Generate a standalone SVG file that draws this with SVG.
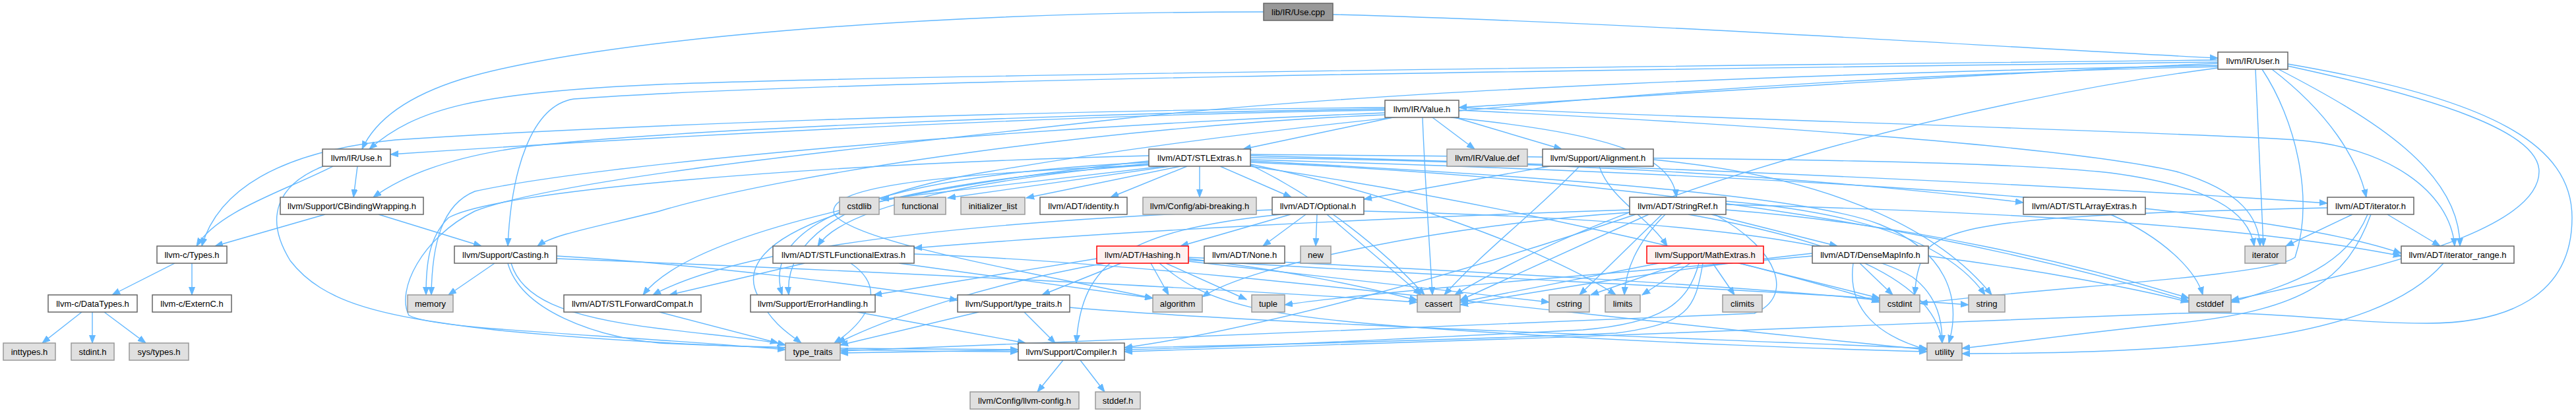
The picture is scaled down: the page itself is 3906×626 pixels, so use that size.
<svg xmlns="http://www.w3.org/2000/svg" width="3906" height="626" viewBox="0 0 3906 626">
<style>
.n rect{fill:#ffffff;stroke:#666666;stroke-width:1.5}
.s rect{fill:#e0e0e0;stroke:#999999;stroke-width:1.5}
.r rect{fill:#999999;stroke:#666666;stroke-width:1.5}
.t rect{fill:#fff0f0;stroke:#ff0000;stroke-width:1.5}
text{font-family:"Liberation Sans",Arial,Helvetica,sans-serif;font-size:13px;fill:#000000;text-anchor:middle}
#edges path{fill:none;stroke:#63b8ff;stroke-width:1.4;marker-end:url(#ah)}
</style>
<defs>
<marker id="ah" markerWidth="13" markerHeight="10" refX="12" refY="5" orient="auto" markerUnits="userSpaceOnUse">
<path d="M0,0.5 L12,5 L0,9.5 z" fill="#63b8ff" stroke="#63b8ff" stroke-width="1"/>
</marker>
</defs>
<rect x="0" y="0" width="3906" height="626" fill="#ffffff"/>
<g id="edges">
<path d="M1916,18 C1400,18 900,60 700,120 C620,145 570,180 549,226"/>
<path d="M2021,22 C2500,35 3000,70 3363,88"/>
<path d="M3363,91 C2800,97 1400,112 1000,128 C720,140 630,165 560,226"/>
<path d="M3363,96 C3000,112 2500,145 2212,163"/>
<path d="M3363,94 C2600,104 1300,118 870,150 C805,160 775,260 770,373"/>
<path d="M3363,103 C3000,150 2480,280 2206,447"/>
<path d="M3363,99 C2800,110 2100,135 1700,180 C1300,225 850,270 720,320 C640,360 600,440 620,478 C660,500 900,505 1191,530"/>
<path d="M3420,105 L3432,373"/>
<path d="M3430,105 C3480,180 3510,300 3480,390 C3440,420 3100,435 2911,460"/>
<path d="M3445,105 C3530,170 3575,240 3588,299"/>
<path d="M3455,105 C3600,180 3730,260 3730,373"/>
<path d="M3469,100 C3700,150 3850,200 3850,260 C3850,330 3700,390 3383,455"/>
<path d="M3469,97 C3780,150 3900,220 3900,330 C3900,450 3800,490 3680,490 C3550,490 3450,470 3300,475 C2900,490 2200,520 1705,533"/>
<path d="M3363,101 C2700,115 2000,175 1500,260 C1250,300 1190,380 1196,447"/>
<path d="M2100,167 C1700,172 1100,200 592,234"/>
<path d="M2100,163 C1500,168 900,192 600,212 C420,230 330,290 306,373"/>
<path d="M2100,165 C1600,172 1000,198 800,222 C700,235 620,260 566,299"/>
<path d="M2112,178 L1885,226"/>
<path d="M2172,178 L2236,226"/>
<path d="M2206,178 L2368,226"/>
<path d="M2200,178 C2420,200 2535,230 2542,299"/>
<path d="M2157,178 C2160,260 2168,380 2172,447"/>
<path d="M2100,174 C1700,190 1200,260 1000,320 C900,345 840,355 815,373"/>
<path d="M2100,171 C1500,195 900,250 720,290 C670,310 655,370 654,447"/>
<path d="M2212,163 C2600,180 3300,200 3480,212 C3620,222 3715,290 3722,373"/>
<path d="M2212,167 C2700,190 3150,225 3300,260 C3400,290 3425,330 3427,373"/>
<path d="M542,252 L536,299"/>
<path d="M505,252 C430,290 330,320 298,373"/>
<path d="M490,252 C420,280 400,330 440,395 C490,460 580,480 750,500 C1000,525 1300,533 1544,533"/>
<path d="M493,325 L326,373"/>
<path d="M574,325 L730,373"/>
<path d="M265,399 L170,447"/>
<path d="M291,399 L291,447"/>
<path d="M124,473 L64,520"/>
<path d="M140,473 L140,520"/>
<path d="M158,473 L221,520"/>
<path d="M750,399 L680,447"/>
<path d="M844,388 C1050,400 1300,430 1452,455"/>
<path d="M844,392 C1300,410 1900,440 2149,458"/>
<path d="M775,399 C790,450 850,480 1000,498 C1100,510 1160,515 1191,523"/>
<path d="M770,399 C790,470 900,510 1000,520 C1200,530 1400,528 1544,530"/>
<path d="M1765,252 L1336,302"/>
<path d="M1775,252 L1437,300"/>
<path d="M1790,252 L1556,300"/>
<path d="M1800,252 L1684,299"/>
<path d="M1819,252 L1819,299"/>
<path d="M1850,252 L1958,299"/>
<path d="M1742,244 C1400,280 1050,350 975,447"/>
<path d="M1742,248 C1500,270 1280,310 1240,373"/>
<path d="M1742,246 C1350,265 1150,330 1186,447"/>
<path d="M1742,250 C1300,280 1100,360 1150,450 C1170,490 1195,505 1215,520"/>
<path d="M1742,236 C1200,250 750,290 680,330 C650,360 646,400 646,447"/>
<path d="M1742,250 C1400,265 1250,285 1265,325 C1300,370 1600,420 1748,452"/>
<path d="M1896,250 C2000,300 2100,380 2160,447"/>
<path d="M1896,246 C2400,268 2900,330 3319,456"/>
<path d="M1896,252 C2300,310 2700,410 2850,458"/>
<path d="M1896,249 C2100,290 2350,380 2450,447"/>
<path d="M1896,234 C2500,240 3000,240 3200,262 C3350,282 3410,320 3418,373"/>
<path d="M1896,236 C2500,250 3200,285 3529,308"/>
<path d="M1896,242 C2600,262 3400,300 3641,384"/>
<path d="M1896,239 C2300,244 2700,262 3068,307"/>
<path d="M1896,244 C2400,270 2750,300 2850,340 C2950,380 2975,450 2955,520"/>
<path d="M1957,325 L1790,373"/>
<path d="M1980,325 L1915,373"/>
<path d="M1997,325 L1995,373"/>
<path d="M1929,318 C1600,330 1150,360 990,447"/>
<path d="M1942,325 C1700,350 1640,400 1632,520"/>
<path d="M2012,325 L2155,447"/>
<path d="M2068,320 C2500,330 2800,360 2900,420 C2940,450 2945,490 2945,520"/>
<path d="M1663,392 L1325,447"/>
<path d="M1700,399 L1580,447"/>
<path d="M1745,399 L1772,447"/>
<path d="M1768,399 L1890,454"/>
<path d="M1675,399 C1500,430 1350,480 1270,520"/>
<path d="M1802,392 C1950,410 2050,430 2149,455"/>
<path d="M1802,396 C2000,420 2200,440 2349,458"/>
<path d="M1802,394 C2200,420 2700,440 2985,462"/>
<path d="M1758,399 C1830,460 1900,480 2200,500 C2500,520 2800,530 2922,533"/>
<path d="M1802,390 C2200,410 2600,430 2850,455"/>
<path d="M1220,399 L1015,447"/>
<path d="M1290,399 C1350,440 1310,490 1265,520"/>
<path d="M1363,399 L1748,452"/>
<path d="M1386,385 C1800,400 2400,480 2922,530"/>
<path d="M1000,473 L1180,520"/>
<path d="M1300,473 L1555,520"/>
<path d="M1484,473 L1274,523"/>
<path d="M1553,473 L1600,520"/>
<path d="M1622,466 C1900,490 2500,510 2922,528"/>
<path d="M1612,546 L1573,594"/>
<path d="M1638,546 L1675,594"/>
<path d="M2595,325 L2786,373"/>
<path d="M2471,318 C2100,330 1700,350 1386,376"/>
<path d="M2617,310 C3000,320 3400,340 3641,388"/>
<path d="M2480,325 C2200,420 1900,500 1705,527"/>
<path d="M2471,322 C2200,340 1900,400 1823,450"/>
<path d="M2500,325 L2214,455"/>
<path d="M2617,318 C2900,340 3150,400 3319,452"/>
<path d="M2520,325 L2395,447"/>
<path d="M2525,325 C2480,370 2465,410 2463,447"/>
<path d="M2617,305 C2800,320 2950,360 3010,447"/>
<path d="M2600,325 C2700,380 2720,450 2660,475 C2400,490 1800,510 1274,532"/>
<path d="M2560,325 C2700,350 2930,400 2945,520"/>
<path d="M2425,252 C2440,300 2500,330 2528,373"/>
<path d="M2350,252 L2068,302"/>
<path d="M2395,252 C2330,320 2250,380 2190,447"/>
<path d="M2507,242 C2800,270 2950,360 3020,447"/>
<path d="M2597,399 L2630,447"/>
<path d="M2563,399 L2490,447"/>
<path d="M2550,399 L2412,447"/>
<path d="M2515,399 L2214,458"/>
<path d="M2637,399 L2850,452"/>
<path d="M2576,399 C2560,460 2520,490 2400,500 C2100,515 1900,525 1705,530"/>
<path d="M2582,399 C2570,470 2560,490 2450,505 C2100,520 1600,530 1274,535"/>
<path d="M2820,399 L2870,447"/>
<path d="M2810,399 C2800,470 2850,510 2922,530"/>
<path d="M2748,384 C2600,400 2400,430 2214,462"/>
<path d="M2748,388 C2500,410 2100,440 1948,462"/>
<path d="M2924,388 C3100,410 3250,440 3319,458"/>
<path d="M3200,325 C3280,360 3330,410 3340,447"/>
<path d="M3567,325 L3466,373"/>
<path d="M3620,325 L3700,373"/>
<path d="M3590,325 C3560,400 3480,430 3383,458"/>
<path d="M3595,325 C3560,420 3500,470 3300,490 C3150,505 3050,520 2975,528"/>
<path d="M3529,315 C3100,325 2960,335 2920,380 C2905,410 2905,430 2903,447"/>
<path d="M3705,399 C3600,520 3300,535 2975,536"/>
</g>
<g id="n_use_cpp" class="r"><rect x="1916" y="5" width="105" height="26"/><text x="1968.5" y="23">lib/IR/Use.cpp</text></g>
<g id="n_user_h" class="n"><rect x="3363" y="79" width="106" height="26"/><text x="3416" y="97">llvm/IR/User.h</text></g>
<g id="n_value_h" class="n"><rect x="2100" y="152" width="112" height="26"/><text x="2156" y="170">llvm/IR/Value.h</text></g>
<g id="n_use_h" class="n"><rect x="489" y="226" width="103" height="26"/><text x="540.5" y="244">llvm/IR/Use.h</text></g>
<g id="n_stlextras" class="n"><rect x="1742" y="226" width="154" height="26"/><text x="1819" y="244">llvm/ADT/STLExtras.h</text></g>
<g id="n_value_def" class="s"><rect x="2194" y="226" width="122" height="26"/><text x="2255" y="244">llvm/IR/Value.def</text></g>
<g id="n_alignment" class="n"><rect x="2339" y="226" width="168" height="26"/><text x="2423" y="244">llvm/Support/Alignment.h</text></g>
<g id="n_cbinding" class="n"><rect x="425" y="299" width="217" height="26"/><text x="533.5" y="317">llvm/Support/CBindingWrapping.h</text></g>
<g id="n_cstdlib" class="s"><rect x="1273" y="299" width="60" height="26"/><text x="1303" y="317">cstdlib</text></g>
<g id="n_functional" class="s"><rect x="1356" y="299" width="78" height="26"/><text x="1395" y="317">functional</text></g>
<g id="n_initializer_list" class="s"><rect x="1457" y="299" width="97" height="26"/><text x="1505.5" y="317">initializer_list</text></g>
<g id="n_identity" class="n"><rect x="1577" y="299" width="132" height="26"/><text x="1643" y="317">llvm/ADT/identity.h</text></g>
<g id="n_abi_breaking" class="s"><rect x="1733" y="299" width="172" height="26"/><text x="1819" y="317">llvm/Config/abi-breaking.h</text></g>
<g id="n_optional" class="n"><rect x="1929" y="299" width="139" height="26"/><text x="1998.5" y="317">llvm/ADT/Optional.h</text></g>
<g id="n_stringref" class="n"><rect x="2471" y="299" width="146" height="26"/><text x="2544" y="317">llvm/ADT/StringRef.h</text></g>
<g id="n_stlarrayextras" class="n"><rect x="3068" y="299" width="185" height="26"/><text x="3160.5" y="317">llvm/ADT/STLArrayExtras.h</text></g>
<g id="n_iterator_h" class="n"><rect x="3529" y="299" width="131" height="26"/><text x="3594.5" y="317">llvm/ADT/iterator.h</text></g>
<g id="n_types_h" class="n"><rect x="238" y="373" width="106" height="26"/><text x="291" y="391">llvm-c/Types.h</text></g>
<g id="n_casting" class="n"><rect x="689" y="373" width="155" height="26"/><text x="766.5" y="391">llvm/Support/Casting.h</text></g>
<g id="n_stlfunctionalextras" class="n"><rect x="1172" y="373" width="214" height="26"/><text x="1279" y="391">llvm/ADT/STLFunctionalExtras.h</text></g>
<g id="n_hashing" class="t"><rect x="1663" y="373" width="139" height="26"/><text x="1732.5" y="391">llvm/ADT/Hashing.h</text></g>
<g id="n_none" class="n"><rect x="1826" y="373" width="122" height="26"/><text x="1887" y="391">llvm/ADT/None.h</text></g>
<g id="n_new" class="s"><rect x="1972" y="373" width="46" height="26"/><text x="1995" y="391">new</text></g>
<g id="n_mathextras" class="t"><rect x="2497" y="373" width="177" height="26"/><text x="2585.5" y="391">llvm/Support/MathExtras.h</text></g>
<g id="n_densemapinfo" class="n"><rect x="2748" y="373" width="176" height="26"/><text x="2836" y="391">llvm/ADT/DenseMapInfo.h</text></g>
<g id="n_iterator" class="s"><rect x="3404" y="373" width="62" height="26"/><text x="3435" y="391">iterator</text></g>
<g id="n_iterator_range" class="n"><rect x="3641" y="373" width="171" height="26"/><text x="3726.5" y="391">llvm/ADT/iterator_range.h</text></g>
<g id="n_datatypes" class="n"><rect x="73" y="447" width="135" height="26"/><text x="140.5" y="465">llvm-c/DataTypes.h</text></g>
<g id="n_externc" class="n"><rect x="231" y="447" width="120" height="26"/><text x="291" y="465">llvm-c/ExternC.h</text></g>
<g id="n_memory" class="s"><rect x="618" y="447" width="69" height="26"/><text x="652.5" y="465">memory</text></g>
<g id="n_stlforwardcompat" class="n"><rect x="855" y="447" width="208" height="26"/><text x="959" y="465">llvm/ADT/STLForwardCompat.h</text></g>
<g id="n_errorhandling" class="n"><rect x="1138" y="447" width="189" height="26"/><text x="1232.5" y="465">llvm/Support/ErrorHandling.h</text></g>
<g id="n_llvm_type_traits" class="n"><rect x="1452" y="447" width="170" height="26"/><text x="1537" y="465">llvm/Support/type_traits.h</text></g>
<g id="n_algorithm" class="s"><rect x="1748" y="447" width="75" height="26"/><text x="1785.5" y="465">algorithm</text></g>
<g id="n_tuple" class="s"><rect x="1898" y="447" width="50" height="26"/><text x="1923" y="465">tuple</text></g>
<g id="n_cassert" class="s"><rect x="2149" y="447" width="65" height="26"/><text x="2181.5" y="465">cassert</text></g>
<g id="n_cstring" class="s"><rect x="2349" y="447" width="61" height="26"/><text x="2379.5" y="465">cstring</text></g>
<g id="n_limits" class="s"><rect x="2434" y="447" width="53" height="26"/><text x="2460.5" y="465">limits</text></g>
<g id="n_climits" class="s"><rect x="2612" y="447" width="60" height="26"/><text x="2642" y="465">climits</text></g>
<g id="n_cstdint" class="s"><rect x="2850" y="447" width="61" height="26"/><text x="2880.5" y="465">cstdint</text></g>
<g id="n_string" class="s"><rect x="2985" y="447" width="55" height="26"/><text x="3012.5" y="465">string</text></g>
<g id="n_cstddef" class="s"><rect x="3319" y="447" width="64" height="26"/><text x="3351" y="465">cstddef</text></g>
<g id="n_inttypes" class="s"><rect x="5" y="520" width="79" height="26"/><text x="44.5" y="538">inttypes.h</text></g>
<g id="n_stdint" class="s"><rect x="108" y="520" width="65" height="26"/><text x="140.5" y="538">stdint.h</text></g>
<g id="n_sys_types" class="s"><rect x="196" y="520" width="90" height="26"/><text x="241" y="538">sys/types.h</text></g>
<g id="n_type_traits" class="s"><rect x="1191" y="520" width="83" height="26"/><text x="1232.5" y="538">type_traits</text></g>
<g id="n_compiler" class="n"><rect x="1544" y="520" width="161" height="26"/><text x="1624.5" y="538">llvm/Support/Compiler.h</text></g>
<g id="n_utility" class="s"><rect x="2922" y="520" width="53" height="26"/><text x="2948.5" y="538">utility</text></g>
<g id="n_llvm_config" class="s"><rect x="1471" y="594" width="165" height="26"/><text x="1553.5" y="612">llvm/Config/llvm-config.h</text></g>
<g id="n_stddef" class="s"><rect x="1661" y="594" width="68" height="26"/><text x="1695" y="612">stddef.h</text></g>
</svg>
